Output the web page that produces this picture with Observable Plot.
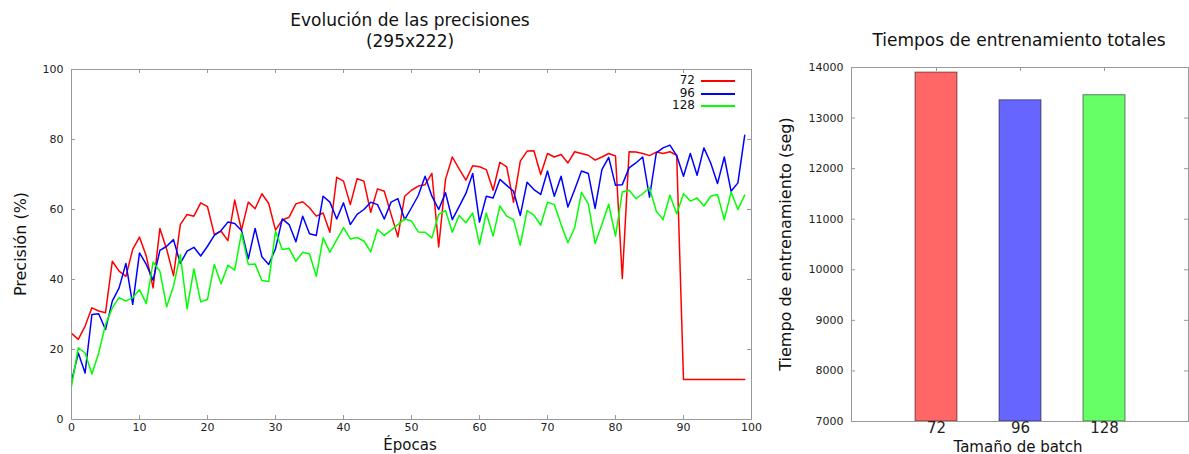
<!DOCTYPE html>
<html><head><meta charset="utf-8">
<script src="https://cdn.jsdelivr.net/npm/d3@7"></script>
<script src="https://cdn.jsdelivr.net/npm/@observablehq/plot@0.6"></script>
<style>
body{margin:0;background:#fff;}
#wrap{position:relative;width:1189px;height:454px;overflow:hidden;font-family:"DejaVu Sans",sans-serif;color:#111;background:#fff;}
.abs{position:absolute;white-space:nowrap;line-height:1;}
#wrap svg{position:absolute;top:0;}
</style></head><body><div id="wrap"></div>
<script>
// ---------- data ----------
const epochs = d3.range(100);
const batchLabels = ["72", "96", "128"];
const acc72 = [24.6,22.9,26.7,31.9,31.0,30.5,45.2,42.4,40.9,48.6,52.1,46.7,37.6,54.6,48.6,41.1,55.7,58.6,58.1,61.9,
60.8,52.9,53.8,51.1,62.7,54.1,62.1,60.2,64.5,61.7,54.1,57.0,57.8,61.6,62.2,60.5,58.1,59.0,53.5,69.2,
68.1,61.4,68.8,68.1,59.2,65.9,65.2,58.6,52.2,63.8,65.5,66.7,67.1,70.3,49.3,68.6,75.0,71.6,68.4,72.5,
72.2,71.4,65.5,73.5,72.2,62.1,73.8,76.7,76.8,70.0,76.0,75.0,75.7,73.3,76.5,76.0,75.5,74.1,75.0,76.0,
75.3,40.3,76.5,76.4,76.0,75.4,76.4,76.0,76.5,75.5,11.4,11.4,11.4,11.4,11.4,11.4,11.4,11.4,11.4,11.4];
const acc96 = [10.9,19.0,13.3,30.0,30.2,25.7,33.8,37.6,44.6,32.9,47.6,44.3,39.8,48.3,49.5,51.4,44.6,48.1,49.2,46.7,
49.5,52.6,54.0,56.4,56.0,54.0,45.9,54.6,46.5,44.3,48.8,57.3,55.7,50.8,58.1,53.1,52.6,63.8,62.1,57.3,
61.9,55.7,58.6,60.0,62.1,61.4,57.3,62.1,63.1,57.1,60.5,64.0,69.5,63.8,60.0,64.8,57.1,60.8,64.6,70.3,
56.4,63.8,63.3,68.6,66.9,65.2,58.3,67.8,65.7,64.3,71.0,63.8,69.5,60.7,65.7,71.0,70.3,60.3,71.4,74.9,
66.9,67.1,71.9,73.3,75.0,63.5,76.2,77.6,78.4,75.4,69.5,76.0,69.8,77.6,73.3,67.4,75.0,65.2,67.6,81.2];
const acc128 = [9.5,20.5,19.0,13.0,19.0,27.1,31.9,34.8,33.8,34.8,37.1,33.1,45.0,42.4,32.2,38.1,47.1,31.6,43.0,33.6,
34.3,44.3,38.8,44.1,42.7,53.3,44.3,44.4,39.7,39.4,53.8,48.6,48.9,45.2,47.8,47.3,40.9,51.9,47.8,51.3,
54.8,51.6,52.0,51.0,47.9,54.3,52.6,54.1,55.7,57.3,56.7,53.6,53.5,51.9,58.6,59.7,53.5,58.3,56.2,59.0,
50.0,59.0,52.4,61.0,58.1,57.1,49.8,59.7,58.4,55.5,62.1,61.4,55.7,50.5,54.8,64.9,61.6,50.3,55.7,61.5,
52.4,65.0,65.5,63.1,64.5,66.2,59.5,57.1,64.1,58.8,64.5,62.4,63.3,61.0,63.8,64.3,57.1,65.0,60.0,64.1];
const xTicks = [0,10,20,30,40,50,60,70,80,90,100];
const yTicks = [0,20,40,60,80,100];
const trainTimes = [13900, 13352, 13452];
const timeTicks = [7000,8000,9000,10000,11000,12000,13000,14000];
const timeDomain = [7000, 14000];

// ---------- styles ----------
const lineColors = ["#ff0000", "#0000ff", "#00ff00"];
const barColors = ["#ff6666", "#6666ff", "#66ff66"];
const frameColor = "#999";
const FONT = "'DejaVu Sans', sans-serif";

const series = [acc72, acc96, acc128];
const rows = batchLabels.flatMap((b, k) => epochs.map(e => ({epoch: e, acc: series[k][e], batch: b})));
const bars = batchLabels.map((b, i) => ({batch: b, time: trainTimes[i]}));

const wrap = document.getElementById("wrap");

// ---------- left chart ----------
const L = {w: 770, h: 454, ml: 71, mr: 19, mt: 69, mb: 35};
const LfW = L.w - L.ml - L.mr, LfH = L.h - L.mt - L.mb;
const left = Plot.plot({
  width: L.w, height: L.h,
  marginLeft: L.ml, marginRight: L.mr, marginTop: L.mt, marginBottom: L.mb,
  x: {domain: [0, 100], axis: null},
  y: {domain: [0, 100], axis: null},
  color: {domain: batchLabels, range: lineColors},
  style: {fontFamily: FONT, fontSize: "11px", color: "#222", background: "transparent", overflow: "visible"},
  marks: [
    Plot.line(rows, {x: "epoch", y: "acc", z: "batch", stroke: "batch", strokeWidth: 1.5}),
    Plot.frame({stroke: frameColor}),
    Plot.tickX(xTicks, {x: d => d, insetTop: LfH - 4, stroke: frameColor}),
    Plot.tickX(xTicks, {x: d => d, insetBottom: LfH - 4, stroke: frameColor}),
    Plot.tickY(yTicks, {y: d => d, insetRight: LfW - 4, stroke: frameColor}),
    Plot.tickY(yTicks, {y: d => d, insetLeft: LfW - 4, stroke: frameColor}),
    Plot.axisX(xTicks, {tickSize: 0, tickPadding: 4, label: null, fontSize: 11, tickFormat: d => String(d)}),
    Plot.axisY(yTicks, {tickSize: 0, tickPadding: 8, label: null, fontSize: 11, tickFormat: d => String(d)})
  ]
});
left.style.left = "0px";
wrap.appendChild(left);

// ---------- right chart ----------
const R = {x0: 770, w: 419, h: 454, ml: 81, mr: 1, mt: 67, mb: 33};
const RfW = R.w - R.ml - R.mr, RfH = R.h - R.mt - R.mb;
const right = Plot.plot({
  width: R.w, height: R.h,
  marginLeft: R.ml, marginRight: R.mr, marginTop: R.mt, marginBottom: R.mb,
  x: {type: "band", domain: batchLabels, paddingInner: 0.5, paddingOuter: 0.75, axis: null},
  y: {domain: timeDomain, axis: null},
  color: {domain: batchLabels, range: barColors},
  style: {fontFamily: FONT, fontSize: "11px", color: "#222", background: "transparent", overflow: "visible"},
  marks: [
    Plot.barY(bars, {x: "batch", y1: timeDomain[0], y2: "time", fill: "batch", stroke: "#000", strokeOpacity: 0.5}),
    Plot.frame({stroke: frameColor}),
    Plot.tickY(timeTicks, {y: d => d, insetRight: RfW - 4, stroke: frameColor}),
    Plot.tickY(timeTicks, {y: d => d, insetLeft: RfW - 4, stroke: frameColor}),
    Plot.tickX(batchLabels, {x: d => d, insetBottom: RfH - 4, stroke: frameColor}),
    Plot.axisX(batchLabels, {tickSize: 0, tickPadding: 1, label: null, fontSize: 15}),
    Plot.axisY(timeTicks, {tickSize: 0, tickPadding: 8, label: null, fontSize: 11, tickFormat: d => String(d)})
  ]
});
right.style.left = R.x0 + "px";
wrap.appendChild(right);

// ---------- texts ----------
function addText(txt, cx, cy, size, rot) {
  const d = document.createElement("div");
  d.className = "abs";
  d.textContent = txt;
  d.style.fontSize = size + "px";
  d.style.left = cx + "px";
  d.style.top = cy + "px";
  d.style.transform = "translate(-50%,-50%)" + (rot ? " rotate(-90deg)" : "");
  wrap.appendChild(d);
  return d;
}
addText("Evolución de las precisiones", 410, 20, 17);
addText("(295x222)", 410, 41, 17);
addText("Épocas", 410, 445, 15);
addText("Precisión (%)", 21, 244, 16, true);
addText("Tiempos de entrenamiento totales", 1019, 40, 17);
addText("Tiempo de entrenamiento (seg)", 786, 244, 16, true);
addText("Tamaño de batch", 1018, 446.5, 15);

// legend
const legY = [80, 92.5, 105];
batchLabels.forEach((b, i) => {
  const t = document.createElement("div");
  t.className = "abs";
  t.textContent = b;
  t.style.fontSize = "12px";
  t.style.right = (1189 - 695) + "px";
  t.style.top = (legY[i] - 6) + "px";
  wrap.appendChild(t);
  const ln = document.createElement("div");
  ln.className = "abs";
  ln.style.left = "701px";
  ln.style.width = "34px";
  ln.style.height = "2px";
  ln.style.top = (legY[i]) + "px";
  ln.style.background = lineColors[i];
  wrap.appendChild(ln);
});
</script></body></html>
